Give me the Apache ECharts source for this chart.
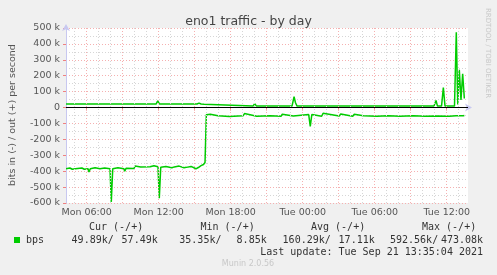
<!DOCTYPE html>
<html><head><meta charset="utf-8">
<script src="https://cdn.jsdelivr.net/npm/echarts@6/dist/echarts.min.js"></script>
<style>html,body{margin:0;padding:0;background:#F0F0F0}#c{width:497px;height:275px}</style>
</head><body><div id="c"></div>
<script>
// hours counted from Monday 00:00
var outHours = [4.28, 11.78, 11.92, 12.07, 15.19, 15.36, 15.53, 15.78, 15.94, 19.86, 20.0, 20.15, 23.11, 23.28, 23.4, 23.53, 34.94, 35.11, 35.23, 35.57, 35.72, 35.86, 36.65, 36.8, 36.92, 37.05, 37.19, 37.33, 37.47];
var outKbps  = [22, 22, 42, 22, 22, 28, 22, 20, 9, 9, 25, 9, 9, 68, 30, 9, 9, 45, 9, 9, 125, 9, 9, 473, 20, 237, 48, 212, 57];

var inHours = [4.28, 4.6, 4.8, 5.05, 5.11, 5.2, 5.6, 5.8, 6.11, 6.19, 6.3, 6.7, 7.1, 7.5, 7.94, 8.05, 8.17, 8.6, 9.1, 9.17, 9.28, 9.94, 10.03, 10.5, 11.28, 11.6, 11.94, 12.05, 12.17, 12.6, 13.1, 13.2, 13.3, 13.7, 14.11, 14.2, 14.3, 14.7, 15.1, 15.19, 15.3, 15.53, 15.73, 15.86, 15.97,
  16.13, 16.3, 16.94, 17.05, 17.88, 18.0, 19.03, 19.15, 20.17, 20.3, 21.28, 21.4, 22.19, 22.3, 23.22, 23.35, 24.5, 24.63, 24.76, 25.58, 25.7, 27.05, 27.17, 28.17, 28.3, 29.05, 29.17, 30.17, 30.3, 31.13, 31.25, 32.11, 32.23, 33.22, 33.35, 34.19, 34.3, 35.17, 35.3, 36.22, 36.35, 36.78, 36.9, 37.38, 37.47];
var inKbps = [385, 380, 388, 385, 393, 385, 380, 388, 385, 405, 385, 378, 385, 380, 385, 593, 385, 378, 385, 400, 382, 383, 368, 374, 372, 366, 372, 570, 375, 370, 378, 390, 373, 368, 378, 388, 376, 370, 385, 397, 377, 365, 358, 345, 46,
  55, 42, 52, 43, 56, 44, 52, 38, 55, 44, 52, 43, 55, 42, 53, 44, 44, 118, 44, 55, 36, 53, 40, 55, 42, 52, 41, 55, 43, 52, 41, 54, 42, 52, 40, 54, 42, 53, 42, 55, 43, 52, 44, 52, 50];

var xLabelHours = [6, 12, 18, 24, 30, 36];
var xLabelTexts = ['Mon 06:00', 'Mon 12:00', 'Mon 18:00', 'Tue 00:00', 'Tue 06:00', 'Tue 12:00'];
var xMajorHours = [6, 9, 12, 15, 18, 21, 24, 27, 30, 33, 36];
var xMinorHours = [5, 7, 8, 10, 11, 13, 14, 16, 17, 19, 20, 22, 23, 25, 26, 28, 29, 31, 32, 34, 35, 37];

var titleText = 'eno1 traffic - by day';
var yAxisTitle = 'bits in (-) / out (+) per second';
var legendHeaders = ['Cur (-/+)', 'Min (-/+)', 'Avg (-/+)', 'Max (-/+)'];
var legendInValues = ['49.89k/', '35.35k/', '160.29k/', '592.56k/'];
var legendOutValues = ['57.49k', '8.85k', '17.11k', '473.08k'];
var seriesName = 'bps';
var lastUpdate = 'Last update: Tue Sep 21 13:35:04 2021';
var footer = 'Munin 2.0.56';
var sideText = 'RRDTOOL / TOBI OETIKER';

var GREEN = '#00CC00';
var RED_GRID = '#F5B0B0';
var GRAY_GRID = '#D6D6D6';
var outData = outHours.map(function (h, i) { return [h, outKbps[i] * 1000]; });
var inData = inHours.map(function (h, i) { return [h, -inKbps[i] * 1000]; });

var mono = 'DejaVu Sans Mono';
var hdrX = [89, 200.5, 311, 422];
var inX = [71.6, 179.3, 282.6, 390];
var outX = [121.6, 236.6, 338.6, 441];

var graphics = [];
graphics.push({type: 'text', x: 13, y: 115, rotation: Math.PI / 2, style: {text: yAxisTitle, fill: '#555', font: '9.5px "DejaVu Sans"', textAlign: 'center', textVerticalAlign: 'middle'}});
graphics.push({type: 'text', x: 487.5, y: 53, rotation: -Math.PI / 2, style: {text: sideText, fill: '#C8C8C8', font: '7px "DejaVu Sans"', textAlign: 'center', textVerticalAlign: 'middle'}});
graphics.push({type: 'rect', shape: {x: 14, y: 237, width: 6, height: 6}, style: {fill: GREEN}});
graphics.push({type: 'text', x: 26, y: 240, style: {text: seriesName, fill: '#333', font: '10px "' + mono + '"', textVerticalAlign: 'middle'}});
legendHeaders.forEach(function (t, i) {
  graphics.push({type: 'text', x: hdrX[i], y: 227.5, style: {text: t, fill: '#333', font: '10px "' + mono + '"', textVerticalAlign: 'middle'}});
  graphics.push({type: 'text', x: inX[i], y: 240, style: {text: legendInValues[i], fill: '#333', font: '10px "' + mono + '"', textVerticalAlign: 'middle'}});
  graphics.push({type: 'text', x: outX[i], y: 240, style: {text: legendOutValues[i], fill: '#333', font: '10px "' + mono + '"', textVerticalAlign: 'middle'}});
});
graphics.push({type: 'text', x: 483, y: 252, style: {text: lastUpdate, fill: '#333', font: '10px "' + mono + '"', textAlign: 'right', textVerticalAlign: 'middle'}});
graphics.push({type: 'text', x: 248, y: 264, style: {text: footer, fill: '#C8C8C8', font: '8px "DejaVu Sans"', textAlign: 'center', textVerticalAlign: 'middle'}});

var chart = echarts.init(document.getElementById('c'), null, {renderer: 'canvas'});
chart.setOption({
  animation: false,
  backgroundColor: '#F0F0F0',
  title: {text: titleText, left: 'center', top: 10, textStyle: {fontFamily: 'DejaVu Sans', fontSize: 12.5, fontWeight: 'normal', color: '#444'}},
  grid: {left: 66, right: 29, top: 28, bottom: 72, show: true, backgroundColor: '#FFFFFF', borderWidth: 0},
  xAxis: {
    type: 'value', min: 4.275, max: 37.775,
    axisLine: {show: true, lineStyle: {color: '#C8C8F0', width: 1}, symbol: ['none', 'arrow'], symbolSize: [6, 7], symbolOffset: [0, 4]},
    axisTick: {show: true, customValues: xMajorHours, length: 3, lineStyle: {color: '#F08080'}},
    axisLabel: {customValues: xLabelHours, margin: 5, color: '#555', fontFamily: 'DejaVu Sans', fontSize: 9.5,
      formatter: function (v) { var i = xLabelHours.indexOf(Math.round(v)); return i >= 0 ? xLabelTexts[i] : ''; }},
    splitLine: {show: false}
  },
  yAxis: {
    type: 'value', min: -600000, max: 500000, interval: 100000,
    axisLine: {show: true, onZero: false, lineStyle: {color: '#C8C8F0', width: 1}, symbol: ['none', 'arrow'], symbolSize: [6, 7], symbolOffset: [0, 4]},
    axisTick: {show: true, length: 3, lineStyle: {color: '#F08080'}},
    axisLabel: {margin: 6, color: '#555', fontFamily: 'DejaVu Sans', fontSize: 9.5,
      formatter: function (v) { return v === 0 ? '0' : (v / 1000) + ' k'; }},
    splitLine: {show: true, lineStyle: {color: RED_GRID, type: [1, 2], width: 1}},
    minorTick: {show: false, splitNumber: 2},
    minorSplitLine: {show: true, lineStyle: {color: GRAY_GRID, type: [1, 2], width: 1}}
  },
  graphic: graphics,
  series: [
    {type: 'line', data: [], z: 1, silent: true,
      markLine: {silent: true, symbol: 'none', label: {show: false}, animation: false,
        lineStyle: {color: GRAY_GRID, type: [1, 2], width: 1},
        data: xMinorHours.map(function (h) { return {xAxis: h, lineStyle: {color: GRAY_GRID, type: [1, 2], width: 1}}; })
          .concat(xMajorHours.map(function (h) { return {xAxis: h, lineStyle: {color: RED_GRID, type: [1, 2], width: 1}}; }))}},
    {type: 'line', name: 'out', data: outData, showSymbol: false, z: 3, lineStyle: {color: GREEN, width: 1.5}, itemStyle: {color: GREEN}},
    {type: 'line', name: 'in', data: inData, showSymbol: false, z: 3, lineStyle: {color: GREEN, width: 1.5}, itemStyle: {color: GREEN}},
    {type: 'line', data: [], z: 4, silent: true,
      markLine: {silent: true, symbol: 'none', label: {show: false}, animation: false,
        data: [{yAxis: 0, lineStyle: {color: '#000000', type: 'solid', width: 1}}]}}
  ]
});
</script></body></html>
